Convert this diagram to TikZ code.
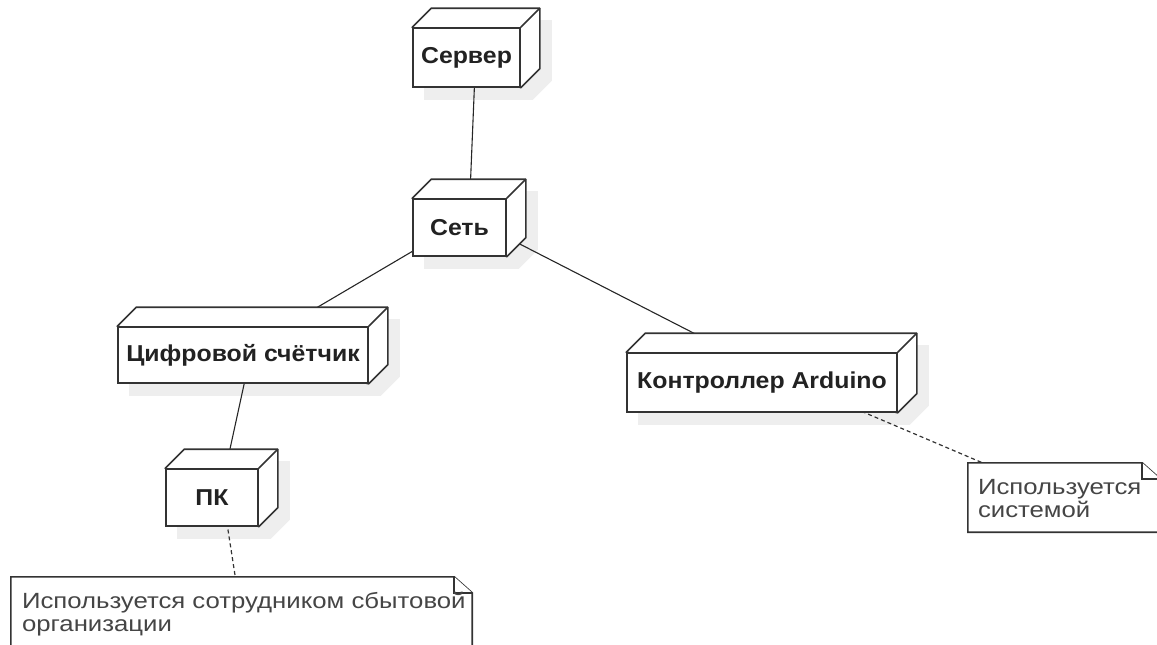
\documentclass[tikz,border=0pt]{standalone}
\usepackage{fontspec}
\setmainfont{Liberation Sans}
\newfontfamily\boxfont[FakeStretch=1.08]{Liberation Sans}
\newfontfamily\notefont[FakeStretch=1.17]{Liberation Sans}
\usetikzlibrary{calc}
\pgfdeclarelayer{shadowl}
\pgfdeclarelayer{edgel}
\pgfdeclarelayer{facel}
\pgfsetlayers{shadowl,edgel,facel,main}
\definecolor{edgecol}{HTML}{333333}
\definecolor{shadowcol}{HTML}{EEEEEE}
\definecolor{labelcol}{HTML}{222222}
\definecolor{notetext}{HTML}{454545}
\tikzset{
  devbox/.style={draw=edgecol, line width=1.6pt, fill=white, inner sep=0pt,
    font=\boxfont\bfseries\fontsize{23}{27}\selectfont, text=labelcol},
  devface/.style={draw=edgecol, line width=1.6pt, fill=white, line join=round},
  link/.style={draw=black!85, line width=1.1pt},
  notelink/.style={draw=black!80, line width=1.2pt, dash pattern=on 4pt off 3pt},
  noteframe/.style={draw=edgecol, line width=1.6pt, fill=white, line join=miter},
  notebody/.style={inner sep=0pt, minimum width=#1},
  notelabel/.style={inner sep=0pt, anchor=north west, align=left, text=notetext,
    font=\notefont\fontsize{22}{23.5}\selectfont},
}
\begin{document}
\begin{tikzpicture}[x=1pt, y=-1pt]
\useasboundingbox (0,0) rectangle (1157,645);

% devices (front faces)
\node[devbox, minimum width=107pt, minimum height=59pt] (srv)   at (466.5,57.5)  {Сервер};
\node[devbox, minimum width=93pt,  minimum height=57pt] (net)   at (459.5,227.5) {Сеть};
\node[devbox, minimum width=250pt, minimum height=56pt] (meter) at (243,355)     {Цифровой счётчик};
\node[devbox, minimum width=270pt, minimum height=59pt] (ctrl)  at (762,382.5)   {Контроллер Arduino};
\node[devbox, minimum width=92pt,  minimum height=57pt] (pc)    at (212,497.5)   {ПК};

% notes
\node[notebody=461pt, minimum height=80pt] (n1) at (241.5,617) {};
\node[notebody=192pt, minimum height=69pt] (n2) at (1064,497.5) {};

% depth faces, drop shadows and centre points of each device
\foreach \n in {srv,net,meter,ctrl,pc}{
  \coordinate (\n-c) at ($(\n.center)+(9.5,-9.5)$);
  \begin{pgfonlayer}{shadowl}
    \fill[shadowcol] ($(\n.south west)+(12,12)$) -- ($(\n.north west)+(12,12)$)
      -- ($(\n.north west)+(31,-7)$) -- ($(\n.north east)+(31,-7)$)
      -- ($(\n.south east)+(31,-7)$) -- ($(\n.south east)+(12,12)$) -- cycle;
  \end{pgfonlayer}
  \begin{pgfonlayer}{facel}
    \filldraw[devface] (\n.north west) -- ($(\n.north west)+(19,-19)$)
      -- ($(\n.north east)+(19,-19)$) -- ($(\n.south east)+(19,-19)$)
      -- (\n.south east) -- cycle;
    \draw[devface] (\n.north east) -- ($(\n.north east)+(19,-19)$);
  \end{pgfonlayer}
}

% note outlines with folded corner
\foreach \n in {n1,n2}{
  \filldraw[noteframe] (\n.south west) -- (\n.north west)
    -- ($(\n.north east)+(-18,0)$) -- ($(\n.north east)+(0,16)$)
    -- (\n.south east) -- cycle;
  \draw[noteframe] ($(\n.north east)+(-18,0)$) -- ($(\n.north east)+(-18,16)$)
    -- ($(\n.north east)+(0,16)$);
}
\node[notelabel] (n1t) at ($(n1.north west)+(11,15)$) {Используется сотрудником сбытовой\\организации};
\node[notelabel] (n2t) at ($(n2.north west)+(10,16)$) {Используется\\системой};

% connections
\begin{pgfonlayer}{edgel}
  \draw[link] (srv-c) -- (net-c);
  \draw[link] (net-c) -- (meter-c);
  \draw[link] (net-c) -- (ctrl-c);
  \draw[link] (meter-c) -- (pc-c);
  \draw[notelink] (pc-c) -- (n1.center);
  \draw[notelink] (ctrl-c) -- (n2.center);
\end{pgfonlayer}
\end{tikzpicture}
\end{document}
